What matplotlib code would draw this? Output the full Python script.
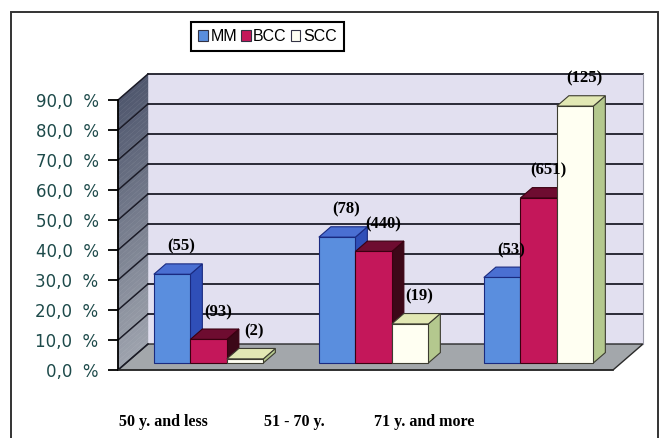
import numpy as np
import matplotlib
matplotlib.use("Agg")
import matplotlib.pyplot as plt
from matplotlib.patches import Polygon, Rectangle, Patch

# ---- data -------------------------------------------------------------
age_groups = ["50 y. and less", "51 - 70 y.", "71 y. and more"]
series = ["MM", "BCC", "SCC"]
mm_counts = [55, 78, 53]
bcc_counts = [93, 440, 651]
scc_counts = [2, 19, 125]
y_ticks = [0, 10, 20, 30, 40, 50, 60, 70, 80, 90]

counts = [mm_counts, bcc_counts, scc_counts]
# share of each tumour type falling in each age group, in percent
percents = [[100.0 * c / sum(cs) for c in cs] for cs in counts]

# ---- styling ----------------------------------------------------------
front_colors = ["#5a8ede", "#c4175a", "#fffff2"]
top_colors = ["#4a6fd2", "#6e0c30", "#e2e8b4"]
side_colors = ["#2f4fb8", "#3c0818", "#b4c88e"]
edge_colors = ["#1a2a80", "#3a0010", "#3c3c30"]

W, H = 659, 438
fig = plt.figure(figsize=(W / 100, H / 100), dpi=100)
fig.patch.set_facecolor("white")

# front plane of the plot box in pixels
x0_px, x1_px = 118, 613
y0_px, y1_px = 370, 100
ax = fig.add_axes([x0_px / W, (H - y0_px) / H,
                   (x1_px - x0_px) / W, (y0_px - y1_px) / H])
ax.set_xlim(0, len(age_groups))
ax.set_ylim(0, 90)
ax.patch.set_visible(False)

# oblique depth of the box in data units (30 px right, 26 px up)
px_x = (x1_px - x0_px) / len(age_groups)
px_y = (y0_px - y1_px) / 90.0
DX = 30 / px_x
DY = 26 / px_y
XMAX = len(age_groups)
YMAX = 90

# back wall
ax.add_patch(Polygon([(DX, DY), (XMAX + DX, DY), (XMAX + DX, YMAX + DY), (DX, YMAX + DY)],
                     closed=True, facecolor="#e2e0f0", edgecolor="none", zorder=0.5, clip_on=False))
# left wall with a vertical shading
n_band = 60
c_top = np.array([0.31, 0.34, 0.43])
c_bot = np.array([0.62, 0.64, 0.68])
for k in range(n_band):
    va = YMAX * k / n_band
    vb = YMAX * (k + 1) / n_band
    t = (k + 0.5) / n_band
    col = c_bot * (1 - t) + c_top * t
    ax.add_patch(Polygon([(0, va), (DX, va + DY), (DX, vb + DY), (0, vb)], closed=True,
                         facecolor=col, edgecolor=col, linewidth=0.3, zorder=0.5, clip_on=False))
# floor
ax.add_patch(Polygon([(0, 0), (XMAX, 0), (XMAX + DX, DY), (DX, DY)], closed=True,
                     facecolor="#a3a7ab", edgecolor="#2a2a2a", linewidth=1.0, zorder=0.6, clip_on=False))

# grid lines on the back wall and the left wall
for v in y_ticks:
    if v > 0:
        ax.plot([DX, XMAX + DX], [v + DY, v + DY], color="#1c1c28", lw=1.3, zorder=0.8, clip_on=False)
    ax.plot([0, DX], [v, v + DY], color="#1c1c28", lw=1.1, zorder=0.8, clip_on=False)
ax.plot([XMAX + DX, XMAX + DX], [DY, YMAX + DY], color="#9a9aa8", lw=0.8, zorder=0.8, clip_on=False)

# ---- 3-D bars -----------------------------------------------------------
bar_w = 36.5 / px_x
z_front = 0.27
z_depth = 0.40
bx, by = z_front * DX, z_front * DY
dx, dy = z_depth * DX, z_depth * DY
n_series = len(series)
for g in range(len(age_groups)):
    for s in range(n_series):
        h = percents[s][g]
        xl = g + 0.5 - n_series * bar_w / 2 + s * bar_w + bx
        xr = xl + bar_w
        b = by
        top = b + h
        z = 2 + g * 0.1 + s * 0.01
        # right side face
        ax.add_patch(Polygon([(xr, b), (xr + dx, b + dy), (xr + dx, top + dy), (xr, top)],
                             closed=True, facecolor=side_colors[s], edgecolor=edge_colors[s],
                             linewidth=0.8, zorder=z, clip_on=False))
        # top face
        ax.add_patch(Polygon([(xl, top), (xr, top), (xr + dx, top + dy), (xl + dx, top + dy)],
                             closed=True, facecolor=top_colors[s], edgecolor=edge_colors[s],
                             linewidth=0.8, zorder=z, clip_on=False))
        # front face
        ax.bar(xl, h, width=bar_w, bottom=b, align="edge", color=front_colors[s],
               edgecolor=edge_colors[s], linewidth=0.8, zorder=z + 0.001, clip_on=False)
        # count label above the bar
        ax.text(xl + bar_w / 2 + dx / 2 + 0.02, top + dy + 3.0, f"({counts[s][g]})",
                ha="center", va="bottom", fontsize=12, fontweight="bold",
                family="Liberation Serif", color="black", zorder=10, clip_on=False)

# ---- axes -------------------------------------------------------------
for side in ("top", "right"):
    ax.spines[side].set_visible(False)
ax.spines["left"].set_color("black")
ax.spines["left"].set_linewidth(1.3)
ax.spines["bottom"].set_color("#2a2a2a")
ax.spines["bottom"].set_linewidth(1.2)
ax.spines["left"].set_zorder(1)
ax.spines["bottom"].set_zorder(1)
ax.set_xticks([])
ax.set_yticks(y_ticks)
ax.set_yticklabels([f"{v:.1f}".replace(".", ",") + "  %" for v in y_ticks],
                   family="DejaVu Sans", fontsize=12, color="#1d4a4a")
ax.tick_params(axis="y", direction="out", length=7, width=1.3, color="black", pad=7)

# category labels under the plot
label_x = [163, 294, 424]
for lx, name in zip(label_x, age_groups):
    fig.text(lx / W, 1 - 422 / H, name, ha="center", va="center", fontsize=11.5,
             fontweight="bold", family="Liberation Serif", color="black")

# legend
handles = [Patch(facecolor=front_colors[i], edgecolor="#333344", linewidth=0.8) for i in range(n_series)]
leg = fig.legend(handles, series, loc="upper center", bbox_to_anchor=(267.5 / W, 1 - 22 / H),
                 ncol=3, frameon=True, fancybox=False, edgecolor="black", framealpha=1,
                 prop={"family": "Liberation Sans", "size": 11.5},
                 handlelength=0.6, handleheight=0.6, handletextpad=0.15, columnspacing=0.25,
                 borderpad=0.45, borderaxespad=0)
leg.get_frame().set_linewidth(1.5)

# outer chart border
fig.patches.append(Rectangle((11 / W, -0.05), (658 - 11) / W, (H - 12) / H + 0.05,
                             transform=fig.transFigure, fill=False, edgecolor="#333333",
                             linewidth=1.4, zorder=0))

fig.savefig("out.png", dpi=100)
